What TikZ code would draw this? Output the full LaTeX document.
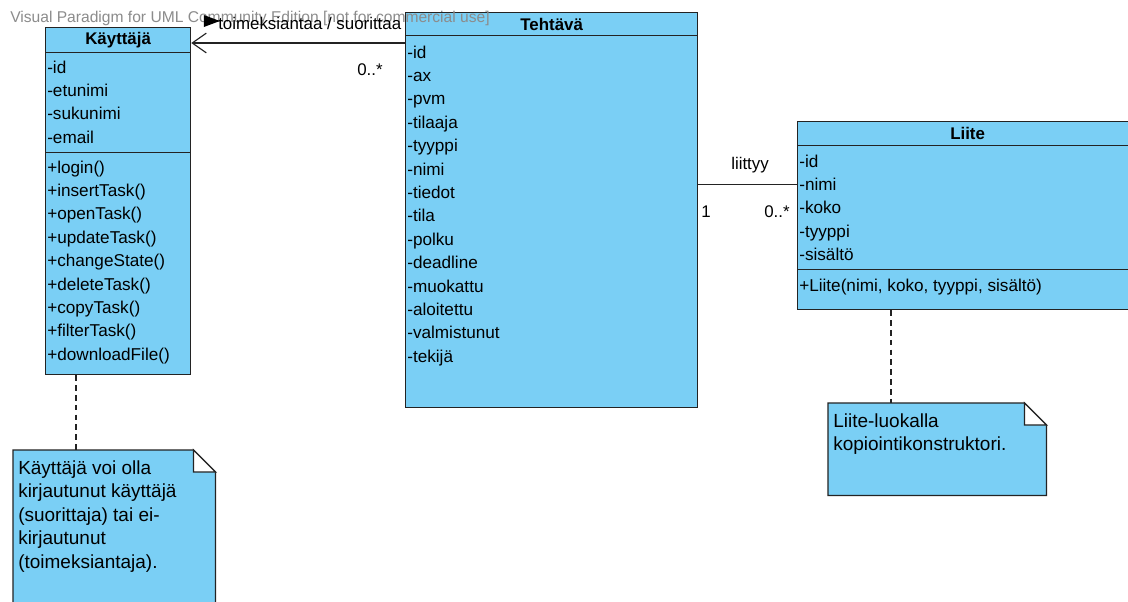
\documentclass[tikz,border=0pt]{standalone}
\usepackage{fontspec}
\setmainfont{Liberation Sans}
\usetikzlibrary{arrows.meta,calc,shapes.geometric}
\definecolor{ClassFill}{RGB}{122,207,245}
\definecolor{EdgeColor}{RGB}{35,35,35}
\definecolor{MarkColor}{RGB}{140,140,140}
\newcommand{\px}{0.025cm}
\newcommand{\RowSep}{23.4}
\newcommand{\ClassRows}[4]{%
  % #1 prefix, #2 x of the text, #3 baseline of the first row, #4 rows
  \foreach \txt [count=\i] in {#4}{%
    \node[member] (#1\i) at (#2,{#3+(\i-1)*\RowSep}) {\txt};
  }%
}
\newcommand{\NoteShape}[1]{%
  % #1 name of the note node, folded corner of 22px
  \draw[notepart] (#1.north west) -- ($(#1.north east)+(-22,0)$) -- ($(#1.north east)+(0,22)$)
    -- (#1.south east) -- (#1.south west) -- cycle;
  \draw[notepart,fill=white] ($(#1.north east)+(-22,0)$) -- ($(#1.north east)+(-22,22)$)
    -- ($(#1.north east)+(0,22)$) -- cycle;
}

\begin{document}
\begin{tikzpicture}[
  x=\px,y=-\px,
  classpart/.style={draw=EdgeColor,fill=ClassFill,line width=0.9pt,anchor=north west,inner sep=0pt},
  classname/.style={font=\bfseries\fontsize{12}{14}\selectfont},
  member/.style={anchor=base west,inner sep=0pt,font=\fontsize{12.2}{14}\selectfont},
  assoc/.style={draw=EdgeColor,line width=0.8pt},
  tag/.style={inner sep=0pt,font=\fontsize{12}{14}\selectfont},
  notebox/.style={anchor=north west,inner sep=0pt},
  notepart/.style={draw=EdgeColor,fill=ClassFill,line width=0.9pt},
  notetext/.style={anchor=north west,align=left,inner sep=0pt,font=\fontsize{13.5}{16.7}\selectfont},
  noteline/.style={draw=EdgeColor,line width=0.8pt,dash pattern=on 4pt off 3pt},
  dirmark/.style={isosceles triangle,isosceles triangle stretches,fill=black,inner sep=0pt,
    minimum height=16*\px,minimum width=12*\px},
  watermark/.style={anchor=west,inner sep=0pt,text=MarkColor,font=\fontsize{11.1}{13}\selectfont}
]
\path[use as bounding box,fill=white] (0,0) rectangle (1128,601);
\clip (0,0) rectangle (1128,601);

% Kayttaja class
\node[classpart,classname,minimum width=145*\px,minimum height=25*\px] (kayttaja) at (45,27) {Käyttäjä};
\node[classpart,minimum width=145*\px,minimum height=100*\px] (katt) at (45,52) {};
\node[classpart,minimum width=145*\px,minimum height=222*\px] (kmet) at (45,152) {};
\ClassRows{ka}{47}{73}{-id,-etunimi,-sukunimi,-email}
\ClassRows{km}{47}{173}{+login(),+insertTask(),+openTask(),+updateTask(),+changeState(),+deleteTask(),+copyTask(),+filterTask(),+downloadFile()}

% Tehtava class
\node[classpart,classname,minimum width=292*\px,minimum height=23*\px] (tehtava) at (405,12) {Tehtävä};
\node[classpart,minimum width=292*\px,minimum height=372*\px] (tatt) at (405,35) {};
\ClassRows{ta}{407}{58}{-id,-ax,-pvm,-tilaaja,-tyyppi,-nimi,-tiedot,-tila,-polku,-deadline,-muokattu,-aloitettu,-valmistunut,-tekijä}

% Liite class
\node[classpart,classname,minimum width=340*\px,minimum height=24*\px] (liite) at (797,121) {Liite};
\node[classpart,minimum width=340*\px,minimum height=124*\px] (latt) at (797,145) {};
\node[classpart,minimum width=340*\px,minimum height=40*\px] (lmet) at (797,269) {};
\ClassRows{la}{799}{167}{-id,-nimi,-koko,-tyyppi,-sisältö}
\node[member] (lm1) at (799,291) {+Liite(nimi, koko, tyyppi, sisältö)};

% Associations
\coordinate (toimrow) at ($(tatt.north west)+(0,8)$);
\draw[assoc,-{Straight Barb[length=10pt,width=14pt]}] (toimrow) -- (toimrow -| kayttaja.east);
\node[tag] (toimmult) at (370,70) {0..*};
\draw[assoc] (tatt.east |- la2) -- (latt.west |- la2);
\node[tag] (liittyy) at (750,165) {liittyy};
\node[tag] (liiteone) at (706,212) {1};
\node[tag] (liitemany) at (777,212) {0..*};

% Notes
\node[notebox,minimum width=202*\px,minimum height=170*\px] (knote) at (13,450) {};
\NoteShape{knote}
\node[notetext] (knotetext) at (18,457.6) {\strut Käyttäjä voi olla\\kirjautunut käyttäjä\\(suorittaja) tai ei-\\kirjautunut\\(toimeksiantaja).};
\draw[noteline] ($(kmet.south west)+(31,0)$) -- ($(knote.north west)+(63,0)$);

\node[notebox,minimum width=218*\px,minimum height=92*\px] (lnote) at (828,403) {};
\NoteShape{lnote}
\node[notetext] (lnotetext) at (833,410.6) {\strut Liite-luokalla\\kopiointikonstruktori.};
\draw[noteline] ($(lmet.south west)+(94,0)$) -- ($(lnote.north west)+(63,0)$);

% Tool mark and association name on top
\node[watermark] (vpmark) at (10,18.5) {Visual Paradigm for UML Community Edition [not for commercial use]};
\node[dirmark] (toimdir) at (208,21) {};
\node[tag,anchor=west] (toimlabel) at (218,23) {toimeksiantaa / suorittaa};

\end{tikzpicture}
\end{document}
